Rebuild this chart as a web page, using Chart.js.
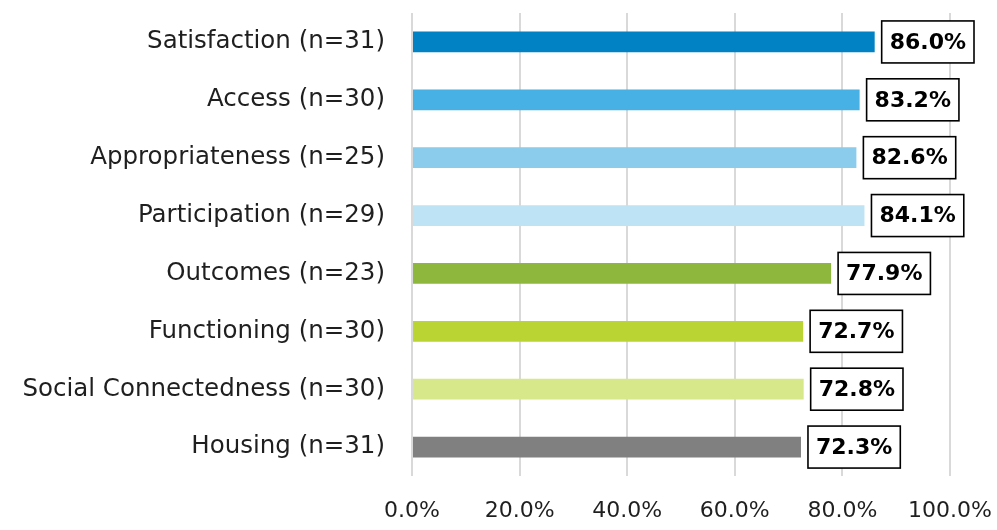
<!DOCTYPE html>
<html>
<head>
<meta charset="utf-8">
<script src="https://cdn.jsdelivr.net/npm/chart.js@4"></script>
<style>
  html, body { margin: 0; padding: 0; background: #fff; }
  #wrap { width: 997px; height: 530px; }
</style>
</head>
<body>
<div id="wrap"><canvas id="chart"></canvas></div>
<script>
const categories = [
    'Satisfaction (n=31)',
    'Access (n=30)',
    'Appropriateness (n=25)',
    'Participation (n=29)',
    'Outcomes (n=23)',
    'Functioning (n=30)',
    'Social Connectedness (n=30)',
    'Housing (n=31)'
];
const values = [86.0, 83.2, 82.6, 84.1, 77.9, 72.7, 72.8, 72.3];
const barColors = ['#0082C4', '#47B0E5', '#8BCBEC', '#BEE3F5', '#8DB83D', '#B9D433', '#D7E88B', '#808080'];
const xTicks = [0, 20, 40, 60, 80, 100];

const fontFamily = '"DejaVu Sans", sans-serif';

// boxed value labels next to each bar
const boxLabels = {
    id: 'boxLabels',
    afterDatasetsDraw(chart) {
        const ctx = chart.ctx;
        const meta = chart.getDatasetMeta(0);
        ctx.save();
        ctx.font = 'bold 22px ' + fontFamily;
        ctx.textBaseline = 'middle';
        ctx.textAlign = 'left';
        meta.data.forEach((bar, i) => {
            const text = values[i].toFixed(1) + '%';
            const w = ctx.measureText(text).width + 16;
            const h = 42;
            const x = bar.x + 7;
            const y = bar.y - h / 2;
            ctx.fillStyle = '#fff';
            ctx.fillRect(x, y, w, h);
            ctx.lineWidth = 1.6;
            ctx.strokeStyle = '#000';
            ctx.strokeRect(x, y, w, h);
            ctx.fillStyle = '#000';
            ctx.fillText(text, x + 8, bar.y + 1);
        });
        ctx.restore();
    }
};

new Chart(document.getElementById('chart'), {
    type: 'bar',
    data: {
        labels: categories,
        datasets: [{
            data: values,
            backgroundColor: barColors,
            barPercentage: 0.36,
            categoryPercentage: 1
        }]
    },
    options: {
        indexAxis: 'y',
        responsive: true,
        maintainAspectRatio: false,
        animation: false,
        layout: { padding: { top: 13, right: 47, left: 0, bottom: 0 } },
        plugins: {
            legend: { display: false },
            tooltip: { enabled: false }
        },
        scales: {
            x: {
                min: 0,
                max: 100,
                afterBuildTicks: (scale) => { scale.ticks = xTicks.map(v => ({ value: v })); },
                afterFit: (scale) => {
                    scale.height = 54;
                    scale.paddingLeft = 0;
                    scale.paddingRight = 0;
                },
                grid: { color: '#D9D9D9', lineWidth: 2, drawTicks: false },
                border: { display: false },
                ticks: {
                    color: '#1F1F1F',
                    font: { family: fontFamily, size: 22 },
                    padding: 22,
                    maxRotation: 0,
                    callback: (v) => v.toFixed(1) + '%'
                }
            },
            y: {
                afterFit: (scale) => {
                    scale.width = 412;
                    scale.paddingTop = 0;
                    scale.paddingBottom = 0;
                },
                grid: { display: false },
                border: { display: false },
                ticks: {
                    color: '#1F1F1F',
                    font: { family: fontFamily, size: 24.5 },
                    padding: 19
                }
            }
        }
    },
    plugins: [boxLabels]
});
</script>
</body>
</html>
